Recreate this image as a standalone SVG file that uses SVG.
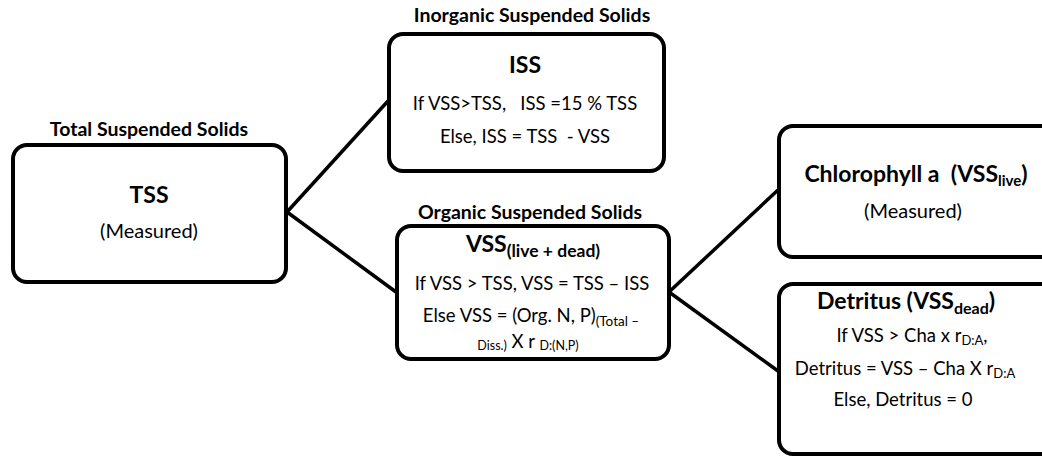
<svg xmlns="http://www.w3.org/2000/svg" width="1042" height="457" viewBox="0 0 1042 457">
<style>
.box{fill:#fff;stroke:#000;stroke-width:4}
.ln{stroke:#000;stroke-width:3.5;fill:none}
text{font-family:Lato,"Liberation Sans",sans-serif;fill:#000;text-anchor:middle}
.cap{font-size:19.5px;font-weight:bold}
.ttl{font-size:23px;font-weight:bold}
.bd{font-size:18.5px}
.ms{font-size:20px}
</style>
<rect width="1042" height="457" fill="#fff"/>
<g id="connectors">
<line class="ln" x1="287" y1="212" x2="388" y2="101"/>
<line class="ln" x1="287" y1="212" x2="396" y2="292"/>
<line class="ln" x1="669" y1="292" x2="778" y2="190"/>
<line class="ln" x1="669" y1="292" x2="778" y2="371"/>
</g>
<g id="tss">
<text class="cap" x="149" y="136">Total Suspended Solids</text>
<rect class="box" x="13" y="145" width="273" height="137" rx="14"/>
<text class="ttl" x="149" y="203">TSS</text>
<text class="ms" x="149" y="238">(Measured)</text>
</g>
<g id="iss">
<text class="cap" x="532" y="22">Inorganic Suspended Solids</text>
<rect class="box" x="389" y="34" width="275" height="137" rx="14"/>
<text class="ttl" x="525" y="73">ISS</text>
<text class="bd" x="525" y="110" xml:space="preserve">If VSS&gt;TSS,   ISS =15 % TSS</text>
<text class="bd" x="525" y="143" xml:space="preserve">Else, ISS = TSS  - VSS</text>
</g>
<g id="vss">
<text class="cap" x="530" y="219">Organic Suspended Solids</text>
<rect class="box" x="397" y="226" width="272" height="133" rx="14"/>
<text class="ttl" x="533" y="252" font-size="24">VSS<tspan font-size="17.5" dy="5">(live + dead)</tspan></text>
<text class="bd" x="532" y="290">If VSS &gt; TSS, VSS = TSS – ISS</text>
<text class="bd" x="531" y="322">Else VSS = (Org. N, P)<tspan font-size="13.5" dy="4">(Total –</tspan></text>
<text class="bd" x="528" y="348"><tspan font-size="12.5" dy="2">Diss.)</tspan><tspan dy="-2"> X r </tspan><tspan font-size="12.5" dy="2">D:(N,P)</tspan></text>
</g>
<g id="chl">
<rect class="box" x="779" y="126" width="280" height="131" rx="14"/>
<text class="ttl" x="916" y="182" font-size="25" xml:space="preserve">Chlorophyll a  (VSS<tspan font-size="15" dy="4">live</tspan><tspan dy="-4">)</tspan></text>
<text class="ms" x="913" y="218">(Measured)</text>
</g>
<g id="detritus">
<rect class="box" x="779" y="284" width="280" height="170" rx="14"/>
<text class="ttl" x="906" y="309" font-size="24">Detritus (VSS<tspan font-size="16" dy="5">dead</tspan><tspan dy="-5">)</tspan></text>
<text class="bd" x="912" y="342">If VSS &gt; Cha x r<tspan font-size="13" dy="3">D:A</tspan><tspan dy="-3">,</tspan></text>
<text class="bd" x="905" y="375">Detritus = VSS – Cha X r<tspan font-size="13" dy="3">D:A</tspan></text>
<text class="bd" x="903" y="406">Else, Detritus = 0</text>
</g>
</svg>
